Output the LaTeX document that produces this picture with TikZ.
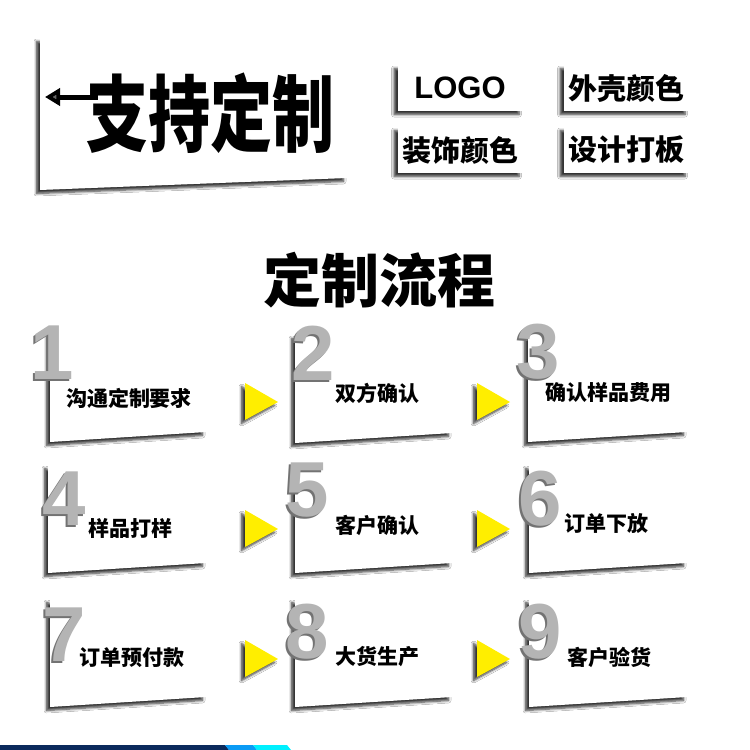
\documentclass[tikz,border=0pt]{standalone}
\usepackage{fontspec}
\setmainfont{Liberation Sans}
\newfontfamily\cjk{Noto Sans CJK SC}
\usetikzlibrary{arrows.meta, positioning, shadows.blur}
\definecolor{cyellow}{HTML}{FFEE00}
\definecolor{cnavy}{HTML}{0B2A5C}
\definecolor{cblue}{HTML}{0A9BF5}
\definecolor{ccyan}{HTML}{00F0FF}
\definecolor{csilver}{HTML}{B4B4B4}
\tikzset{
  every picture/.style={x=1pt, y=-1pt},
  softshadow/.style={blur shadow={shadow xshift=-3.5pt, shadow yshift=-3.5pt, shadow blur radius=2.5pt, shadow blur steps=6, shadow opacity=80}},
  card/.style={fill=white, softshadow},
  tag/.style={fill=white, softshadow, minimum width=125pt, minimum height=46pt, inner sep=0pt, font=\cjk\bfseries\fontsize{29}{30}\selectfont},
  steptext/.style={inner sep=0pt, font=\cjk\bfseries\fontsize{21}{22}\selectfont},
  numeral/.style={inner sep=0pt, font=\bfseries\fontsize{78}{80}\selectfont, text=csilver},
  pointer/.style={fill=cyellow, softshadow},
}

\begin{document}
\begin{tikzpicture}
  \fill[white] (0,0) rectangle (750,750);
  \useasboundingbox (0,0) rectangle (750,750);
  % headline card with the arrow logo
  \path[card] (40,38) -- (347,50) -- (347,178) -- (40,190) -- cycle;
  \node[inner sep=0pt, yscale=1.35, font=\cjk\bfseries\fontsize{62}{62}\selectfont] (brand) at (210,113) {支持定制};
  \coordinate (tip) at (45,97);
  \draw[line width=5pt, -{Triangle[length=15pt, width=17pt]}] ([xshift=12pt]brand.west |- tip) -- (tip);
  % four option tags
  \node[tag, font=\bfseries\fontsize{31}{32}\selectfont] (logo) at (460,88) {LOGO};
  \foreach \n/\x/\y/\t in {shell/626/88/外壳颜色, trim/460/150/装饰颜色, board/626/150/设计打板}
    \node[tag] (\n) at (\x,\y) {\t};
  % section title
  \node[font=\cjk\bfseries\fontsize{58}{60}\selectfont] (title) at (379,280) {定制流程};
  % step cards: left x, right x, bottom y of the left corner
  \foreach \i/\xl/\xr/\yb in {1/50/206/442, 2/295/452/443, 3/528/687/442,
                              4/48/206/573, 5/295/452/573, 6/529/687/573,
                              7/50/206/707, 8/295/452/707, 9/529/687/707}
    \path[card] (\xl,\yb-108) -- (\xr,\yb-72) -- (\xr,\yb-10) -- (\xl,\yb) -- cycle;
  % yellow pointers between the cards
  \foreach \xa/\ya in {245/383, 477/383, 245/510, 477/510, 245/640, 477/640}
    \path[pointer] (\xa,\ya) -- (\xa+33,\ya+19) -- (\xa,\ya+37) -- cycle;
  % step numbers
  \foreach \i/\x/\y in {1/52/353, 2/313/353, 3/538/352, 4/64/499, 5/307/490,
                        6/540/499, 7/64/635, 8/307/632, 9/540/632} {
    \node[numeral, text=black!55] (numsh\i) at (\x-2,\y+2) {\i};
    \node[numeral] (num\i) at (\x,\y) {\i};
  }
  % step names
  \foreach \i/\x/\y/\t in {1/129/398/沟通定制要求, 2/377/393/双方确认, 3/608/393/确认样品费用,
                           4/130/528/样品打样, 5/377/525/客户确认, 6/606/523/订单下放,
                           7/132/658/订单预付款, 8/377/657/大货生产, 9/609/657/客户验货}
    \node[steptext] (step\i) at (\x,\y) {\t};
  % stripe along the bottom edge
  \fill[cnavy] (0,745) -- (225,745) -- (229,750) -- (0,750) -- cycle;
  \fill[cblue] (225,745) -- (253,745) -- (257,750) -- (229,750) -- cycle;
  \fill[ccyan] (253,745) -- (287,745) -- (291,750) -- (257,750) -- cycle;
\end{tikzpicture}
\end{document}
